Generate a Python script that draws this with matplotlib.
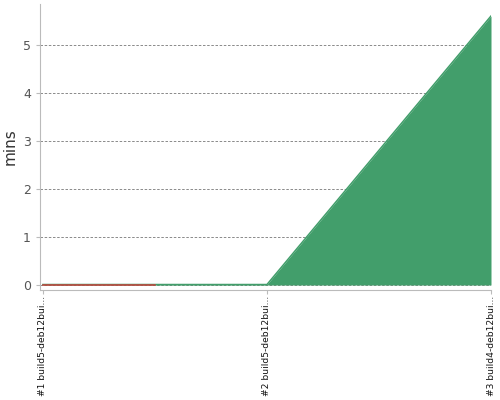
import matplotlib
matplotlib.use("Agg")
import matplotlib.pyplot as plt

builds = ["#1 build5-deb12bui...", "#2 build5-deb12bui...", "#3 build4-deb12bui..."]
durations = [0.01, 0.01, 5.6]
results = ["failed", "success", "success"]

colors = {"failed": "#c8413c", "success": "#429e6b"}

fig = plt.figure(figsize=(5, 4), dpi=100)
ax = fig.add_axes([0.08, 0.275, 0.902, 0.715])

x = list(range(len(builds)))

# whole trend in green, then each failed build's half-segments on top
ax.fill_between(x, 0, durations, color=colors["success"], lw=0, zorder=2)
ax.plot(x, durations, color=colors["success"], lw=1.1, zorder=3)
for i, (d, r) in enumerate(zip(durations, results)):
    if r != "failed":
        continue
    xs, ys = [i], [d]
    if i > 0:
        xs = [i - 0.5] + xs
        ys = [(durations[i - 1] + d) / 2] + ys
    if i < len(builds) - 1:
        xs = xs + [i + 0.5]
        ys = ys + [(durations[i + 1] + d) / 2]
    ax.fill_between(xs, 0, ys, color=colors[r], lw=0, zorder=4)
    ax.plot(xs, ys, color=colors[r], lw=1.1, zorder=5)

ax.set_xlim(-0.013, 2)
ax.set_ylim(-0.104, 5.85)
ax.set_xticks(x)
ax.set_xticklabels(builds, rotation=90, fontsize=6.6, color="#111111")
ax.set_yticks(range(6))
ax.tick_params(axis="y", labelsize=9, labelcolor="#555555", length=3, color="#bbbbbb")
ax.tick_params(axis="x", length=3, color="#bbbbbb", pad=1)
ax.yaxis.grid(True, linestyle=(0, (3, 2)), color="#777777", lw=0.6, zorder=1)
ax.set_ylabel("mins", fontsize=11, color="#333333", labelpad=4)
for s in ["top", "right"]:
    ax.spines[s].set_visible(False)
for s in ["left", "bottom"]:
    ax.spines[s].set_color("#bbbbbb")

fig.savefig("out.png")
